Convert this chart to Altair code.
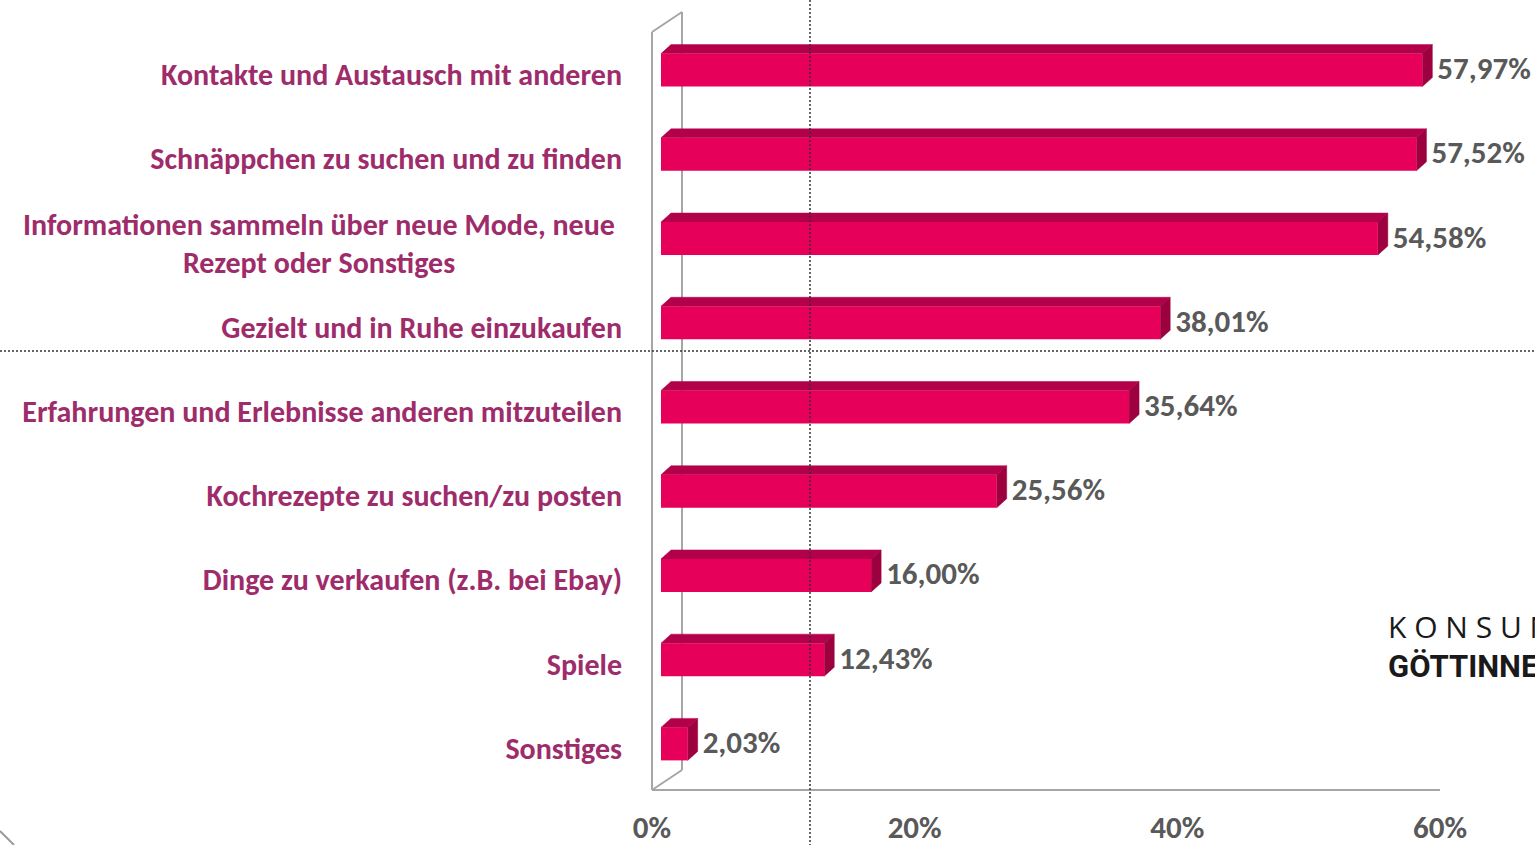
import altair as alt
import pandas as pd

# ---- data ----
categories = [
    "Kontakte und Austausch mit anderen",
    "Schnäppchen zu suchen und zu finden",
    "Informationen sammeln über neue Mode, neue\nRezept oder Sonstiges",
    "Gezielt und in Ruhe einzukaufen",
    "Erfahrungen und Erlebnisse anderen mitzuteilen",
    "Kochrezepte zu suchen/zu posten",
    "Dinge zu verkaufen (z.B. bei Ebay)",
    "Spiele",
    "Sonstiges",
]
values = [57.97, 57.52, 54.58, 38.01, 35.64, 25.56, 16.00, 12.43, 2.03]
value_labels = ["57,97%", "57,52%", "54,58%", "38,01%", "35,64%", "25,56%", "16,00%", "12,43%", "2,03%"]
ticks = [0, 20, 40, 60]
tick_labels = ["0%", "20%", "40%", "60%"]

# ---- geometry helpers (pixel -> data units) ----
X_RANGE = [661, 1449]
Y_RANGE = [34, 792]
SX = (X_RANGE[1] - X_RANGE[0]) / 60.0
SY = (Y_RANGE[1] - Y_RANGE[0]) / 9.0
BAR_HALF = 16.5 / SY
BAR_OFF = -6 / SY
DX = 10 / SX
DY = 9 / SY

FRONT = "#E6005A"
TOP = "#B3004A"
SIDE = "#9C003E"
LABEL_COLOR = "#9E2C6B"
GRAY = "#595959"
FONT = "Carlito, Lato, sans-serif"

xs = alt.Scale(domain=[0, 60], range=X_RANGE, zero=False, nice=False)
ys = alt.Scale(domain=[-0.5, 8.5], range=Y_RANGE, zero=False, nice=False)

rows = []
top_pts = []
side_pts = []
for i, (c, v, lab) in enumerate(zip(categories, values, value_labels)):
    yt = i + BAR_OFF - BAR_HALF
    yb = i + BAR_OFF + BAR_HALF
    rows.append(dict(row=i, cat=c, value=v, lab=lab, zero=0.0, yt=yt, yb=yb,
                     yc=i + BAR_OFF, multi="\n" in c))
    for k, (x, y) in enumerate([(0, yt), (v, yt), (v + DX, yt - DY), (DX, yt - DY), (0, yt)]):
        top_pts.append(dict(bar=i, ord=k, px=x, py=y))
    for k, (x, y) in enumerate([(v, yt), (v + DX, yt - DY), (v + DX, yb - DY), (v, yb), (v, yt)]):
        side_pts.append(dict(bar=i, ord=k, px=x, py=y))

df = pd.DataFrame(rows)
top_df = pd.DataFrame(top_pts)
side_df = pd.DataFrame(side_pts)
one = pd.DataFrame({"a": [0]})
tdf = pd.DataFrame({"t": ticks, "lab": tick_labels})

frame_color = "#A6A6A6"
def rule(x, y, x2=None, y2=None, color=frame_color, width=2, dash=None):
    kw = dict(color=color, strokeWidth=width)
    if dash:
        kw["strokeDash"] = dash
    enc = dict(x=alt.value(x), y=alt.value(y))
    if x2 is not None:
        enc["x2"] = alt.value(x2)
    if y2 is not None:
        enc["y2"] = alt.value(y2)
    return alt.Chart(one).mark_rule(**kw).encode(**enc)

frame = [
    rule(652, 32, y2=790),
    rule(682, 12, y2=770),
    rule(652, 32, x2=682, y2=12),
    rule(652, 790, x2=682, y2=770),
    rule(652, 790, x2=1440, y2=790),
    rule(0, 831, x2=14, y2=845, color="#9a9a9a"),
]

def face_layer(d, color):
    return alt.Chart(d).mark_line(fill=color, stroke=color, strokeWidth=0.5,
                                  interpolate="linear").encode(
        x=alt.X("px:Q", scale=xs, axis=None),
        y=alt.Y("py:Q", scale=ys, axis=None),
        detail="bar:N",
        order="ord:Q",
    )

top_face = face_layer(top_df, TOP)
side_face = face_layer(side_df, SIDE)

front = alt.Chart(df).mark_rect(color=FRONT).encode(
    x=alt.X("zero:Q", scale=xs, axis=None),
    x2="value:Q",
    y=alt.Y("yt:Q", scale=ys, axis=None),
    y2="yb:Q",
)

vals = alt.Chart(df).mark_text(align="left", baseline="middle", dx=15, font=FONT,
                               fontWeight="bold", fontSize=31, color=GRAY).encode(
    x=alt.X("value:Q", scale=xs, axis=None),
    y=alt.Y("yc:Q", scale=ys, axis=None),
    text="lab:N",
)

cat_single = alt.Chart(df).transform_filter("!datum.multi").mark_text(
    align="right", baseline="middle", font=FONT, fontWeight="bold", fontSize=30,
    color=LABEL_COLOR).encode(
    x=alt.value(622),
    y=alt.Y("row:Q", scale=ys, axis=None),
    text="cat:N",
)
cat_multi = alt.Chart(df).transform_filter("datum.multi").mark_text(
    align="center", baseline="middle", font=FONT, fontWeight="bold", fontSize=30,
    color=LABEL_COLOR, lineBreak="\n", lineHeight=38, dy=-19).encode(
    x=alt.value(319),
    y=alt.Y("row:Q", scale=ys, axis=None),
    text="cat:N",
)

tick_text = alt.Chart(tdf).mark_text(align="center", baseline="middle", dx=-9, font=FONT,
                                     fontWeight="bold", fontSize=31, color=GRAY).encode(
    x=alt.X("t:Q", scale=xs, axis=None),
    y=alt.value(829),
    text="lab:N",
)

dots = [
    rule(810, 0, y2=845, color="#333333", width=1.5, dash=[2, 2]),
    rule(0, 351, x2=1535, color="#333333", width=1.5, dash=[2, 2]),
]

logo1 = alt.Chart(one).mark_text(align="left", baseline="middle", font="Open Sans",
                                 fontWeight=400, fontSize=30, color="#1a1a1a",
                                 text="K O N S U M").encode(x=alt.value(1388), y=alt.value(629))
logo2 = alt.Chart(one).mark_text(align="left", baseline="middle", font="Roboto",
                                 fontWeight="bold", fontSize=31, color="#1a1a1a",
                                 text="GÖTTINNEN").encode(x=alt.value(1388), y=alt.value(668))

chart = alt.layer(*frame, top_face, side_face, front, vals, cat_single, cat_multi, tick_text,
                  *dots, logo1, logo2).properties(
    width=1535, height=845,
    autosize=alt.AutoSizeParams(type="none"),
    padding=0,
).configure_view(stroke=None)

chart.save("out.html", embed_options={"renderer": "svg", "actions": False})
